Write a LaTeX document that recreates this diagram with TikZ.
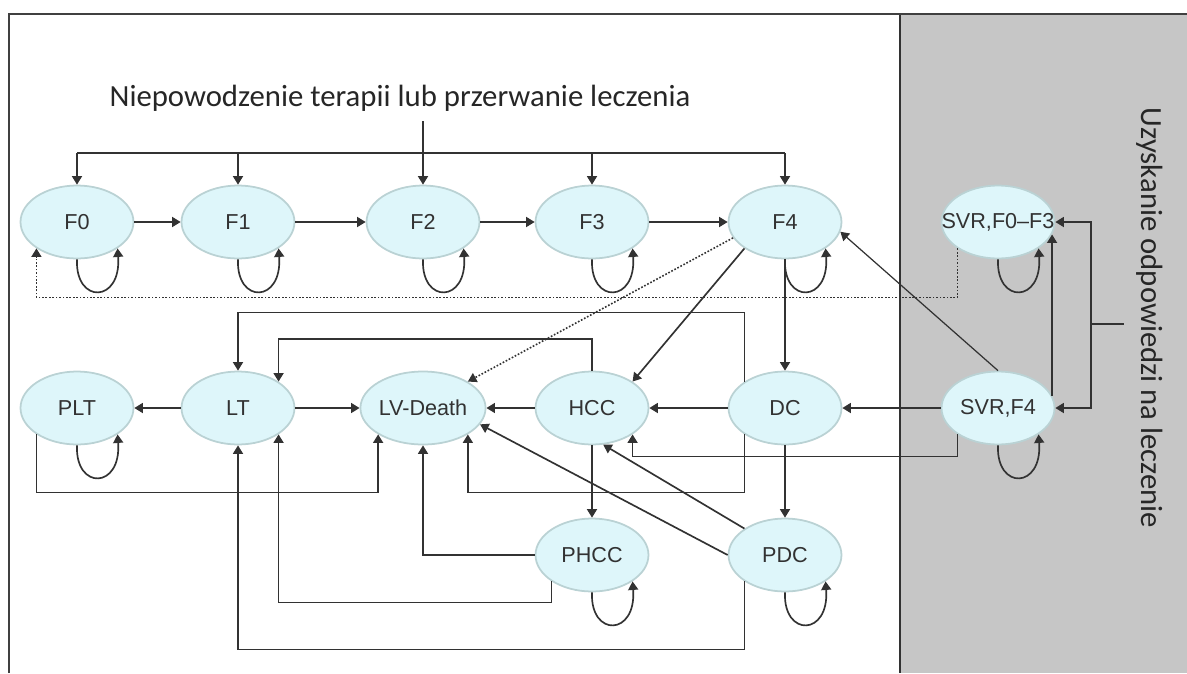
\documentclass[tikz,border=0pt]{standalone}
\usepackage{fontspec}
\setmainfont{Liberation Sans}
\newfontfamily\calfont{Carlito}
\usepackage{tikz}
\usetikzlibrary{arrows.meta, shapes.geometric}
\definecolor{stfill}{RGB}{222,246,250}
\definecolor{stline}{RGB}{186,210,212}
\definecolor{ink}{RGB}{50,50,50}
\definecolor{panel}{RGB}{198,198,198}

\begin{document}
\begin{tikzpicture}[x=0.02cm, y=-0.02cm,
        state/.style={ellipse, fill=stfill, draw=stline, line width=1pt, minimum width=2.26cm, minimum height=1.46cm, inner sep=0pt, text=ink, font=\fontsize{12.3}{14}\selectfont},
        wire/.style={draw=ink, line width=0.95pt},
        arr/.style={wire, -{Triangle[length=1.7mm,width=2mm]}},
        dots/.style={densely dotted, line width=0.9pt},
        caption/.style={text=black!85, font=\calfont\fontsize{17.5}{20}\selectfont}]
                \useasboundingbox (0,0) rectangle (1187,673);
                \fill[panel] (900,14) rectangle (1187,673);
                \draw[ink, line width=0.8pt] (900,14) -- (900,673);
                \draw[black!75, line width=1.5pt] (9,673) -- (9,14) -- (1187,14);

                \node[caption, anchor=base] (title) at (400,106) {Niepowodzenie terapii lub przerwanie leczenia};
                \node[caption, rotate=-90] (resp) at (1150,318) {Uzyskanie odpowiedzi na leczenie};

                \node[state] (F0) at (77,222) {F0};
                \node[state] (F1) at (238,222) {F1};
                \node[state] (F2) at (423,222) {F2};
                \node[state] (F3) at (592,222) {F3};
                \node[state] (F4) at (785,222) {F4};
                \node[state] (S03) at (998,222) {\makebox[0pt]{SVR,F0–F3}};

                \node[state] (PLT) at (77,408) {PLT};
                \node[state] (LT) at (238,408) {LT};
                \node[state] (LVD) at (423,408) {LV-Death};
                \node[state] (HCC) at (592,408) {HCC};
                \node[state] (DC) at (785,408) {DC};
                \node[state] (S4) at (998,408) {SVR,F4};

                \node[state] (PHCC) at (592,555) {PHCC};
                \node[state] (PDC) at (785,555) {PDC};

                \coordinate (drop) at (423,121);
                \coordinate (bus) at (0,153);
                \draw[wire] (F0.north |- bus) -- (F4.north |- bus);
                \draw[arr] (F0.north |- bus) -- (F0.north);
                \draw[arr] (F1.north |- bus) -- (F1.north);
                \draw[arr] (drop) -- (F2.north);
                \draw[arr] (F3.north |- bus) -- (F3.north);
                \draw[arr] (F4.north |- bus) -- (F4.north);

                \draw[arr] (F0) -- (F1);
                \draw[arr] (F1) -- (F2);
                \draw[arr] (F2) -- (F3);
                \draw[arr] (F3) -- (F4);

                \draw[arr] (F0.south) .. controls +(-2,45) and +(4,55) .. (F0.south east);
                \draw[arr] (F1.south) .. controls +(-2,45) and +(4,55) .. (F1.south east);
                \draw[arr] (F2.south) .. controls +(-2,45) and +(4,55) .. (F2.south east);
                \draw[arr] (F3.south) .. controls +(-2,45) and +(4,55) .. (F3.south east);
                \draw[arr] (F4.south) .. controls +(-2,45) and +(4,55) .. (F4.south east);
                \draw[arr] (S03.south) .. controls +(-2,45) and +(4,55) .. (S03.south east);
                \draw[arr] (PLT.south) .. controls +(-2,45) and +(4,55) .. (PLT.south east);
                \draw[arr] (S4.south) .. controls +(-2,45) and +(4,55) .. (S4.south east);
                \draw[arr] (PHCC.south) .. controls +(-2,45) and +(4,55) .. (PHCC.south east);
                \draw[arr] (PDC.south) .. controls +(-2,45) and +(4,55) .. (PDC.south east);

                \draw[arr, dots] (S03.south west) -- ++(0,49) -| (F0.south west);
                \draw[arr, dots] (F4.197) -- (LVD.north east);
                \draw[arr] (F4.south west) -- (HCC.north east);
                \draw[arr] (F4) -- (DC);
                \draw[arr, line width=0.7pt] (S4.north) -- (F4.-10);

                \draw[arr] (LT) -- (PLT);
                \draw[arr] (LT) -- (LVD);
                \draw[arr] (HCC) -- (LVD);
                \draw[arr] (DC) -- (HCC);
                \draw[arr] (S4) -- (DC);
                \draw[arr] (HCC) -- (PHCC);
                \draw[arr] (DC) -- (PDC);

                \draw[arr] (DC.north west) -- ++(0,-69) -| (LT.north);
                \draw[arr] (HCC.north) -- ++(0,-31.5) -| (LT.north east);
                \draw[arr] (PLT.south west) -- ++(0,58) -| (LVD.south west);
                \draw[arr] (DC.south west) -- ++(0,58) -| (LVD.south east);
                \draw[arr] (S4.south west) -- ++(0,22) -| (HCC.south east);
                \draw[arr] (PHCC.west) -| (LVD.south);
                \draw[arr] (PHCC.south west) -- ++(0,21) -| (LT.south east);
                \draw[arr] (PDC.south west) -- ++(0,68) -| (LT.south);
                \draw[arr] (PDC.north west) -- (HCC.-73);
                \draw[arr] (PDC.west) -- (LVD.-16);

                \draw[arr] (S4.13) -- (S03.-13);
                \draw[wire, {Triangle[length=1.7mm,width=2mm]}-{Triangle[length=1.7mm,width=2mm]}] (S03.east) -- ++(35.5,0) |- (S4.east);
                \draw[wire] (S03.east) ++(35.5,102) -- ++(33,0);
            \end{tikzpicture}
\end{document}
